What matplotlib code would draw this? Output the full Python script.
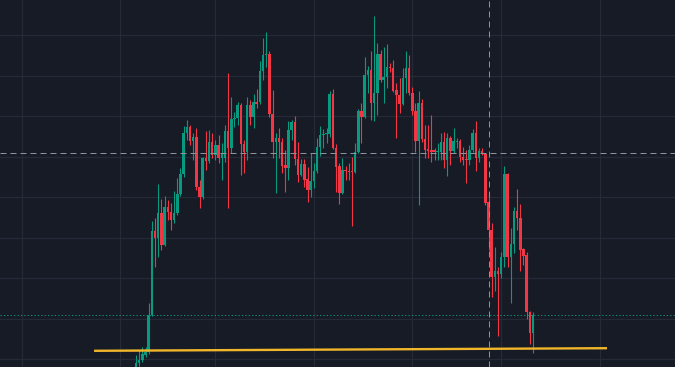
import matplotlib
matplotlib.use("Agg")
import matplotlib.pyplot as plt
import numpy as np

# Daily candles (index 0 = first visible candle), prices in chart units
opens = [32, 37, 40, 45, 48, 85, 169, 162, 187, 155, 193, 188, 180, 187, 206, 226, 267, 273, 259, 263,
         213, 203, 242, 239, 258, 245, 255, 242, 242, 269, 252, 281, 282, 295, 256, 248, 295, 283, 298, 298,
         329, 345, 346, 286, 258, 262, 258, 235, 232, 270, 278, 241, 225, 236, 221, 210, 219, 229, 253, 265,
         266, 266, 306, 252, 234, 207, 230, 229, 229, 228, 248, 289, 283, 325, 330, 297, 307, 346, 320, 323,
         333, 332, 310, 305, 296, 322, 332, 307, 289, 259, 297, 261, 251, 250, 250, 248, 248, 258, 240, 262,
         249, 258, 259, 243, 241, 240, 250, 267, 242, 249, 246, 198, 170, 123, 129, 126, 143, 226, 143, 156,
         189, 182, 151, 145, 88, 67]
highs = [45, 50, 53, 53, 97, 179, 182, 216, 201, 204, 200, 197, 209, 222, 232, 274, 280, 275, 267, 272,
         220, 243, 269, 270, 267, 260, 265, 257, 275, 327, 303, 288, 298, 297, 260, 303, 300, 306, 311, 339,
         362, 368, 349, 310, 267, 272, 262, 250, 279, 280, 284, 258, 241, 241, 233, 247, 237, 262, 274, 271,
         272, 309, 311, 256, 237, 242, 234, 237, 243, 257, 291, 297, 343, 334, 349, 384, 357, 350, 353, 356,
         337, 340, 317, 322, 332, 349, 345, 313, 297, 309, 301, 275, 275, 285, 252, 257, 267, 268, 267, 264,
         272, 262, 261, 253, 250, 255, 271, 279, 252, 252, 247, 208, 177, 153, 133, 148, 234, 227, 172, 193,
         211, 196, 152, 148, 89, 88]
lows = [28, 34, 38, 43, 46, 84, 133, 143, 150, 154, 180, 170, 177, 185, 204, 223, 260, 255, 240, 210,
        192, 201, 230, 237, 242, 240, 237, 220, 238, 192, 247, 273, 275, 225, 227, 240, 275, 272, 292, 296,
        320, 333, 283, 242, 207, 242, 227, 208, 220, 260, 235, 218, 224, 213, 198, 203, 212, 227, 244, 252,
        257, 263, 251, 208, 196, 206, 220, 220, 174, 227, 247, 257, 282, 307, 280, 279, 285, 318, 297, 312,
        328, 308, 262, 287, 295, 307, 305, 285, 248, 195, 258, 242, 242, 238, 240, 240, 240, 232, 224, 235,
        247, 252, 238, 235, 217, 235, 248, 229, 238, 245, 195, 150, 103, 109, 64, 122, 133, 133, 97, 147,
        170, 129, 135, 81, 56, 47]
closes = [37, 40, 46, 48, 85, 169, 162, 187, 155, 193, 188, 180, 187, 206, 226, 267, 273, 259, 263, 213,
          203, 242, 239, 258, 245, 255, 242, 247, 269, 252, 281, 282, 295, 256, 248, 295, 283, 298, 296, 329,
          345, 346, 286, 258, 262, 258, 234, 232, 270, 278, 241, 225, 236, 220, 210, 219, 229, 253, 265, 266,
          267, 306, 252, 233, 207, 230, 229, 228, 228, 248, 289, 283, 325, 330, 297, 307, 346, 320, 323, 333,
          332, 309, 305, 296, 322, 332, 307, 289, 259, 297, 261, 250, 249, 248, 248, 249, 258, 240, 262, 249,
          259, 259, 243, 240, 240, 250, 267, 242, 249, 246, 197, 170, 123, 129, 126, 143, 226, 143, 156, 189,
          182, 150, 144, 88, 67, 85]

# Month boundaries (candle index) used for the vertical grid
month_starts = [-36, -5, 25, 56, 87, 115, 146]
# Horizontal price grid levels
price_levels = [40.7, 81.2, 121.7, 162.2, 202.7, 243.2, 283.7, 324.2, 364.7]

crosshair_index = 111
crosshair_price = 247
last_price = 85
support_x = [-13.2, 148.3]
support_y = [49.2, 51.8]

BG = "#171b26"
GRID = "#252a36"
UP = "#089981"
DOWN = "#f23645"

fig = plt.figure(figsize=(6.75, 3.67), dpi=100)
fig.patch.set_facecolor(BG)
ax = fig.add_axes([0, 0, 1, 1])
ax.set_facecolor(BG)

x = np.arange(len(opens))
o = np.array(opens, float)
h = np.array(highs, float)
l = np.array(lows, float)
c = np.array(closes, float)
up = c >= o
colors = np.where(up, UP, DOWN)

# wicks
ax.vlines(x, l, h, colors=colors, linewidth=0.8, zorder=3)
# bodies
bottom = np.minimum(o, c)
height = np.maximum(np.abs(c - o), 1.0)
ax.bar(x, height, bottom=bottom, width=0.78, color=colors, linewidth=0, zorder=4)

# grid
for m in month_starts:
    ax.axvline(m, color=GRID, linewidth=0.9, zorder=0)
for p in price_levels:
    ax.axhline(p, color=GRID, linewidth=0.9, zorder=0)

# last price dotted line
ax.axhline(last_price, color=UP, linewidth=0.72, linestyle=(0, (1.2, 2.2)), zorder=2)

# support line
ax.plot(support_x, support_y, color="#f2b62a", linewidth=1.7, solid_capstyle="butt", zorder=5)

# crosshair
ax.axhline(crosshair_price, color="#8e929c", linewidth=0.72, linestyle=(0, (6, 4)), zorder=6)
ax.axvline(crosshair_index, color="#8e929c", linewidth=0.72, linestyle=(0, (6, 4)), zorder=6)

ax.set_xlim(-42.82, 169.71)
ax.set_ylim(33, 400)
ax.tick_params(left=False, bottom=False, labelleft=False, labelbottom=False)
for s in ax.spines.values():
    s.set_visible(False)

fig.savefig("out.png", dpi=100, facecolor=BG)
